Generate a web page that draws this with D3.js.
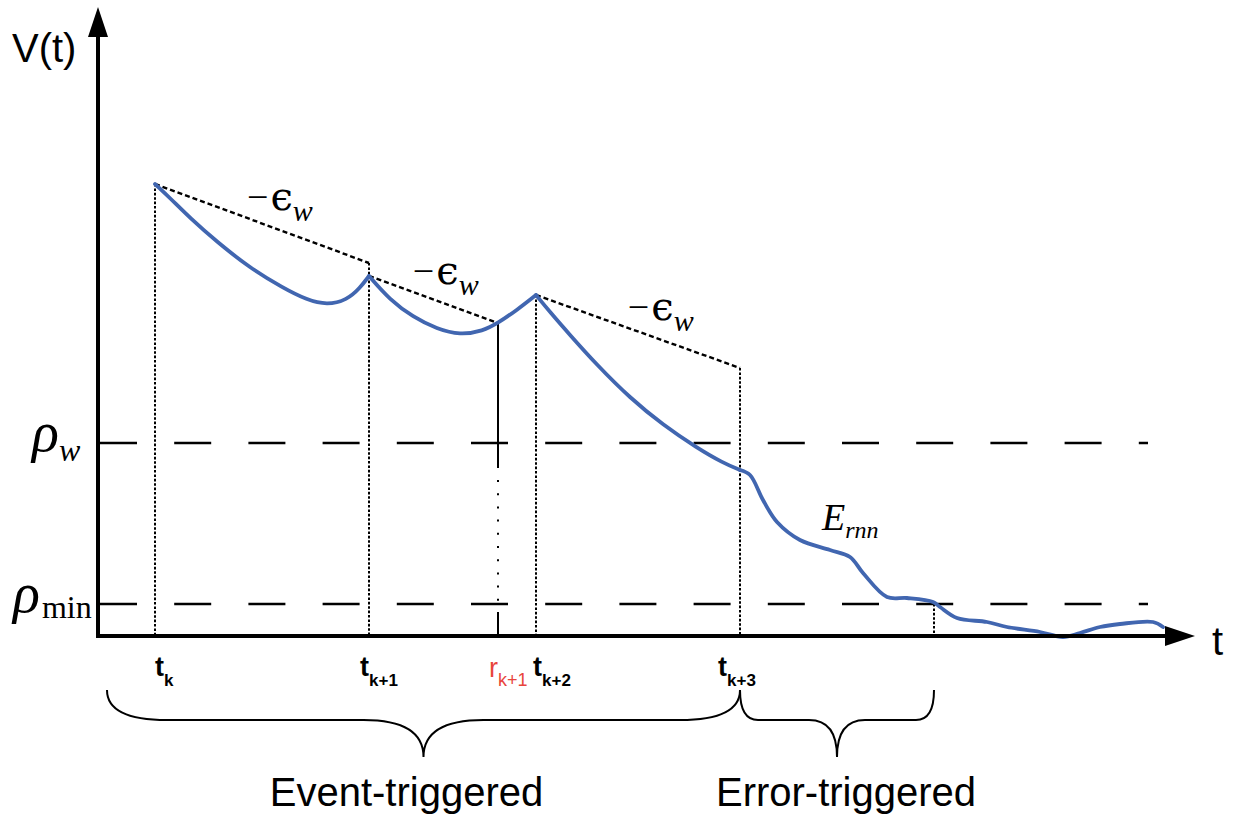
<!DOCTYPE html>
<html>
<head>
<meta charset="utf-8">
<script src="https://cdn.jsdelivr.net/npm/d3@7"></script>
<style>
  html, body { margin: 0; padding: 0; background: #ffffff; }
  svg { display: block; }
</style>
</head>
<body>
<svg id="chart" width="1239" height="821"></svg>
<script>
// ---- data -------------------------------------------------------------
// trigger instants on the time axis
const eventTimes = [0.57, 2.71, 4.38, 6.42];
const eventSubs = ["k", "k+1", "k+2", "k+3"];
const requestTime = 4.00;
const requestSub = "k+1";
const errorEndTime = 8.36;

// guaranteed decrease bounds (-eps_w) per interval
const boundStartT = [0.57, 2.71, 4.38];
const boundStartV = [4.52, 3.60, 3.41];
const boundEndT = [2.71, 4.00, 6.42];
const boundEndV = [3.73, 3.13, 2.68];

// threshold levels
const levelNames = ["w", "min"];
const levelValues = [1.93, 0.32];

// V(t) trajectory, one array per inter-event piece
const curveEvent1 = [[0.57, 4.52], [0.72, 4.38], [0.92, 4.18], [1.19, 3.94], [1.52, 3.68],
  [1.85, 3.48], [2.09, 3.36], [2.29, 3.31], [2.49, 3.36], [2.62, 3.48], [2.71, 3.60]];
const curveEvent2 = [[2.71, 3.60], [2.92, 3.36], [3.15, 3.19], [3.39, 3.07], [3.62, 3.01],
  [3.85, 3.05], [4.00, 3.13], [4.19, 3.26], [4.38, 3.41]];
const curveEvent3 = [[4.38, 3.41], [4.52, 3.24], [4.72, 3.01], [4.99, 2.71], [5.32, 2.38],
  [5.65, 2.11], [5.99, 1.88], [6.25, 1.73], [6.42, 1.66]];
const curveError = [[6.42, 1.66], [6.52, 1.61], [6.65, 1.36], [6.79, 1.14], [7.02, 0.96],
  [7.32, 0.86], [7.52, 0.79], [7.65, 0.63], [7.89, 0.39], [8.09, 0.38], [8.35, 0.34],
  [8.42, 0.29], [8.59, 0.18], [8.89, 0.14], [9.09, 0.09], [9.42, 0.04], [9.65, -0.01],
  [9.82, 0.03], [10.02, 0.09], [10.22, 0.12], [10.55, 0.14], [10.65, 0.09]];
const eventPieces = [curveEvent1, curveEvent2, curveEvent3];

// braces under the axis: [start time, end time, label]
const braceStarts = [0.09, 6.42];
const braceEnds = [6.42, 8.36];
const braceLabels = ["Event-triggered", "Error-triggered"];

// ---- layout -----------------------------------------------------------
const svg = d3.select("#chart");
const x = d3.scaleLinear().domain([0, 11]).range([98, 1198]);
const y = d3.scaleLinear().domain([0, 6.3]).range([636, 6]);

const BLUE = "#4166b0";
const RED = "#e8453c";
const SERIF = "'Liberation Serif', 'DejaVu Serif', serif";
const SANS = "'Liberation Sans', Arial, sans-serif";

// ---- threshold dashed lines ------------------------------------------
svg.append("g").selectAll("line").data(levelValues).join("line")
  .attr("x1", x(0.02)).attr("x2", x(10.5))
  .attr("y1", d => y(d)).attr("y2", d => y(d))
  .attr("stroke", "#000").attr("stroke-width", 2.4)
  .attr("stroke-dasharray", "37,37.2");

// ---- vertical dotted guides at triggers ------------------------------
const guideTops = [boundStartV[0], boundEndV[0], boundStartV[2], boundEndV[2]];
const guides = eventTimes.map((t, i) => ({ t, top: guideTops[i] }))
  .concat([{ t: errorEndTime, top: levelValues[1] }]);
svg.append("g").selectAll("line").data(guides).join("line")
  .attr("x1", d => Math.round(x(d.t))).attr("x2", d => Math.round(x(d.t)))
  .attr("y1", d => y(d.top)).attr("y2", y(0))
  .attr("stroke", "#000").attr("stroke-width", 2)
  .attr("stroke-dasharray", "2.6,1.8");

// ---- decrease bounds (-eps_w) ----------------------------------------
const bounds = boundStartT.map((t, i) => ({ t0: t, v0: boundStartV[i], t1: boundEndT[i], v1: boundEndV[i] }));
svg.append("g").selectAll("line").data(bounds).join("line")
  .attr("x1", d => x(d.t0)).attr("y1", d => y(d.v0))
  .attr("x2", d => x(d.t1)).attr("y2", d => y(d.v1))
  .attr("stroke", "#000").attr("stroke-width", 2.4)
  .attr("stroke-dasharray", "5,3");

// ---- request marker r_{k+1} ------------------------------------------
const reqBreaks = [1.68, 0.24];
const rx = Math.round(x(requestTime));
const rg = svg.append("g").attr("stroke", "#000").attr("stroke-width", 2);
rg.append("line").attr("x1", rx).attr("x2", rx)
  .attr("y1", y(boundEndV[1])).attr("y2", y(reqBreaks[0]));
rg.append("line").attr("x1", rx).attr("x2", rx)
  .attr("y1", y(reqBreaks[0]) + 12).attr("y2", y(reqBreaks[1]) - 10)
  .attr("stroke-dasharray", "2,11.2");
rg.append("line").attr("x1", rx).attr("x2", rx)
  .attr("y1", y(reqBreaks[1])).attr("y2", y(0));

// ---- V(t) trajectory -------------------------------------------------
const smoothLine = d3.line().x(d => x(d[0])).y(d => y(d[1])).curve(d3.curveBasis);
const wigglyLine = d3.line().x(d => x(d[0])).y(d => y(d[1])).curve(d3.curveCatmullRom.alpha(0.5));
const curveG = svg.append("g").attr("fill", "none").attr("stroke", BLUE)
  .attr("stroke-width", 3.8).attr("stroke-linejoin", "round").attr("stroke-linecap", "round");
curveG.selectAll("path.event").data(eventPieces).join("path")
  .attr("class", "event").attr("d", smoothLine);
curveG.append("path").datum(curveError).attr("d", wigglyLine);

// ---- axes with arrow heads -------------------------------------------
const ax = svg.append("g");
ax.append("line").attr("x1", x(0)).attr("x2", x(10.7)).attr("y1", y(0)).attr("y2", y(0))
  .attr("stroke", "#000").attr("stroke-width", 4);
ax.append("line").attr("x1", x(0)).attr("x2", x(0)).attr("y1", y(0) + 2).attr("y2", y(6.0))
  .attr("stroke", "#000").attr("stroke-width", 4);
ax.append("path")
  .attr("d", `M${x(10.97)},${y(0)} L${x(10.67)},${y(0) - 10} L${x(10.67)},${y(0) + 10} Z`)
  .attr("fill", "#000");
ax.append("path")
  .attr("d", `M${x(0)},${y(6.29)} L${x(0) - 10},${y(5.99)} L${x(0) + 10},${y(5.99)} Z`)
  .attr("fill", "#000");

ax.append("text").attr("x", 12).attr("y", 62)
  .attr("font-family", SANS).attr("font-size", 40).text("V(t)");
ax.append("text").attr("x", 1212).attr("y", 655)
  .attr("font-family", SANS).attr("font-size", 40).text("t");

// ---- tick labels -----------------------------------------------------
const tickG = svg.append("g").attr("font-family", SANS);
const eventLabelShift = [0, -9, -3, -22];
eventTimes.forEach((t, i) => {
  const tx = tickG.append("text").attr("x", x(t) + eventLabelShift[i]).attr("y", 676)
    .attr("font-weight", "bold").attr("font-size", 27);
  tx.append("tspan").text("t");
  tx.append("tspan").attr("dy", 10).attr("font-size", 17).text(eventSubs[i]);
});
{
  const tr = tickG.append("text").attr("x", x(requestTime) - 9).attr("y", 677)
    .attr("fill", RED).attr("font-size", 27);
  tr.append("tspan").text("r");
  tr.append("tspan").attr("dy", 9).attr("font-size", 18).text(requestSub);
}

// ---- threshold labels -------------------------------------------------
const lvG = svg.append("g").attr("font-family", SERIF);
{
  const t1 = lvG.append("text").attr("x", 32).attr("y", y(levelValues[0]) + 8)
    .attr("font-size", 56).attr("font-style", "italic");
  t1.append("tspan").text("ρ");
  t1.append("tspan").attr("dy", 10).attr("font-size", 32).text(levelNames[0]);
  const t2 = lvG.append("text").attr("x", 13).attr("y", y(levelValues[1]) + 8)
    .attr("font-size", 56);
  t2.append("tspan").attr("font-style", "italic").text("ρ");
  t2.append("tspan").attr("dx", 2).attr("dy", 6).attr("font-size", 32).text(levelNames[1]);
}

// ---- -eps_w labels on each bound -------------------------------------
const epsAt = [0.43, 0.34, 0.45];
bounds.forEach((b, i) => {
  const lt = b.t0 + epsAt[i] * (b.t1 - b.t0);
  const lv = b.v0 + epsAt[i] * (b.v1 - b.v0);
  const tx = svg.append("text").attr("x", x(lt)).attr("y", y(lv) - 8)
    .attr("font-family", SERIF).attr("font-size", 38);
  tx.append("tspan").text("−");
  tx.append("tspan").attr("dx", 2).attr("font-family", "'DejaVu Serif', serif").attr("font-size", 40).text("ϵ");
  tx.append("tspan").attr("dy", 11).attr("font-style", "italic").attr("font-size", 30).text("w");
});

// ---- E_rnn label ------------------------------------------------------
{
  const te = svg.append("text").attr("x", x(7.24)).attr("y", 530)
    .attr("font-family", SERIF).attr("font-style", "italic").attr("font-size", 38);
  te.append("tspan").text("E");
  te.append("tspan").attr("dy", 8).attr("font-size", 24).text("rnn");
}

// ---- braces -----------------------------------------------------------
const braceTop = 690, braceMid = 720, braceTip = 757;
const braceEndR = [60, 18], braceTipR = [60, 28], braceTextShift = [-17, 9];
function bracePath(x0, x1, rE, rT) {
  const xm = (x0 + x1) / 2;
  return `M${x0},${braceTop} Q${x0},${braceMid} ${x0 + rE},${braceMid} ` +
    `L${xm - rT},${braceMid} Q${xm},${braceMid} ${xm},${braceTip} ` +
    `Q${xm},${braceMid} ${xm + rT},${braceMid} L${x1 - rE},${braceMid} ` +
    `Q${x1},${braceMid} ${x1},${braceTop}`;
}
const braceG = svg.append("g");
braceStarts.forEach((s, i) => {
  const x0 = x(s), x1 = x(braceEnds[i]);
  braceG.append("path").attr("d", bracePath(x0, x1, braceEndR[i], braceTipR[i]))
    .attr("fill", "none").attr("stroke", "#000").attr("stroke-width", 2);
  braceG.append("text").attr("x", (x0 + x1) / 2 + braceTextShift[i]).attr("y", 806)
    .attr("text-anchor", "middle").attr("font-family", SANS).attr("font-size", 40)
    .text(braceLabels[i]);
});
</script>
</body>
</html>
